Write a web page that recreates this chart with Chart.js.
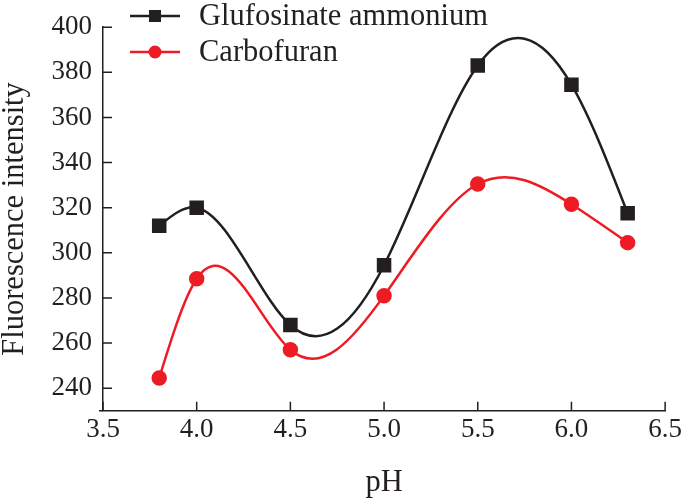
<!DOCTYPE html>
<html>
<head>
<meta charset="utf-8">
<script src="https://cdn.jsdelivr.net/npm/chart.js@4.4.1/dist/chart.umd.min.js"></script>
<style>
  html, body { margin: 0; padding: 0; background: #fff; }
  #wrap { width: 685px; height: 501px; position: relative; }
</style>
</head>
<body>
<div id="wrap"><canvas id="phChart"></canvas></div>
<script>
// data
const phValues = [3.8, 4.0, 4.5, 5.0, 5.5, 6.0, 6.3];
const glufosinate = [312, 320, 268, 294.5, 383, 374.5, 317.5];
const carbofuran = [244.5, 288.5, 257, 281, 330.5, 321.5, 304.5];
const yTickValues = [240, 260, 280, 300, 320, 340, 360, 380, 400];
const xTickValues = [3.5, 4.0, 4.5, 5.0, 5.5, 6.0, 6.5];

const BLACK = '#231f20';
const RED = '#ed1c24';
const FONT = "'Liberation Serif', 'Times New Roman', serif";

function toPoints(ys) {
    return phValues.map((x, i) => ({ x: x, y: ys[i] }));
}

// natural cubic spline through the point elements (pixel space),
// written into the bezier control points that Chart.js draws with
function splineControlPoints(pts) {
    const n = pts.length;
    if (n < 3) return;
    const h = [], d = [];
    for (let i = 0; i < n - 1; i++) {
        h.push(pts[i + 1].x - pts[i].x);
        d.push((pts[i + 1].y - pts[i].y) / h[i]);
    }
    // tridiagonal solve for second derivatives, M0 = Mn = 0
    const M = new Array(n).fill(0);
    const a = [], b = [], c = [], r = [];
    for (let i = 1; i < n - 1; i++) {
        a.push(h[i - 1]);
        b.push(2 * (h[i - 1] + h[i]));
        c.push(h[i]);
        r.push(6 * (d[i] - d[i - 1]));
    }
    const m = b.length;
    for (let i = 1; i < m; i++) {
        const w = a[i] / b[i - 1];
        b[i] -= w * c[i - 1];
        r[i] -= w * r[i - 1];
    }
    const sol = new Array(m);
    sol[m - 1] = r[m - 1] / b[m - 1];
    for (let i = m - 2; i >= 0; i--) sol[i] = (r[i] - c[i] * sol[i + 1]) / b[i];
    for (let i = 0; i < m; i++) M[i + 1] = sol[i];

    const slope = [];
    for (let i = 0; i < n - 1; i++) slope.push(d[i] - h[i] * (2 * M[i] + M[i + 1]) / 6);
    slope.push(d[n - 2] + h[n - 2] * (M[n - 2] + 2 * M[n - 1]) / 6);

    for (let i = 0; i < n; i++) {
        const p = pts[i];
        const hl = i > 0 ? h[i - 1] / 3 : 0;
        const hr = i < n - 1 ? h[i] / 3 : 0;
        p.cp1x = p.x - hl; p.cp1y = p.y - hl * slope[i];
        p.cp2x = p.x + hr; p.cp2y = p.y + hr * slope[i];
    }
}

const smoothLines = {
    id: 'smoothLines',
    beforeDatasetsDraw(chart) {
        chart.data.datasets.forEach((ds, i) => {
            const meta = chart.getDatasetMeta(i);
            meta.dataset.updateControlPoints(chart.chartArea, 'x');
            splineControlPoints(meta.data);
        });
    }
};

// tick marks pointing into the plot + legend drawn inside the plot
const extras = {
    id: 'extras',
    afterDatasetsDraw(chart) {
        const ctx = chart.ctx;
        const area = chart.chartArea;
        const xs = chart.scales.x, ys = chart.scales.y;
        ctx.save();
        ctx.strokeStyle = BLACK;
        ctx.lineWidth = 1.5;
        ctx.beginPath();
        yTickValues.forEach(v => {
            const py = ys.getPixelForValue(v);
            ctx.moveTo(area.left, py);
            ctx.lineTo(area.left + 9, py);
        });
        xTickValues.forEach(v => {
            const px = xs.getPixelForValue(v);
            ctx.moveTo(px, area.bottom);
            ctx.lineTo(px, area.bottom - 9);
        });
        ctx.moveTo(area.left - 4, area.bottom);
        ctx.lineTo(area.left, area.bottom);
        ctx.stroke();

        // legend
        const rows = [16, 52];
        chart.data.datasets.forEach((ds, i) => {
            const y = rows[i];
            ctx.strokeStyle = ds.borderColor;
            ctx.lineWidth = 2.5;
            ctx.beginPath();
            ctx.moveTo(130, y);
            ctx.lineTo(180, y);
            ctx.stroke();
            ctx.fillStyle = ds.backgroundColor;
            ctx.beginPath();
            if (ds.pointStyle === 'rect') {
                ctx.rect(155 - 6, y - 6, 12, 12);
            } else {
                ctx.arc(155, y, 6.5, 0, Math.PI * 2);
            }
            ctx.fill();
            ctx.fillStyle = BLACK;
            ctx.font = '30.5px ' + FONT;
            ctx.textAlign = 'left';
            ctx.textBaseline = 'middle';
            ctx.fillText(ds.label, 199, y + 1);
        });
        ctx.restore();
    }
};

const chart = new Chart(document.getElementById('phChart'), {
    type: 'line',
    data: {
        datasets: [{
            label: 'Glufosinate ammonium',
            data: toPoints(glufosinate),
            borderColor: BLACK,
            backgroundColor: BLACK,
            borderWidth: 2.5,
            pointStyle: 'rect',
            pointRadius: 8.5,
            pointHoverRadius: 8.5,
            tension: 0.4
        }, {
            label: 'Carbofuran',
            data: toPoints(carbofuran),
            borderColor: RED,
            backgroundColor: RED,
            borderWidth: 2.5,
            pointStyle: 'circle',
            pointRadius: 6.5,
            pointHoverRadius: 6.5,
            tension: 0.4
        }]
    },
    options: {
        responsive: true,
        maintainAspectRatio: false,
        animation: false,
        layout: { padding: { left: 0, right: 19, top: 14.5, bottom: 0 } },
        plugins: {
            legend: { display: false },
            tooltip: { enabled: false }
        },
        scales: {
            x: {
                type: 'linear',
                min: 3.5,
                max: 6.5,
                afterBuildTicks: s => { s.ticks = xTickValues.map(v => ({ value: v })); },
                afterFit: s => { s.height = 90.3; },
                grid: { display: true, drawOnChartArea: false, drawTicks: false },
                border: { display: true, color: BLACK, width: 1.5 },
                ticks: {
                    color: BLACK,
                    padding: 3,
                    font: { family: FONT, size: 27 },
                    callback: v => Number(v).toFixed(1)
                },
                title: {
                    display: true,
                    text: 'pH',
                    color: BLACK,
                    font: { family: FONT, size: 30.5, lineHeight: 1 },
                    padding: { top: 0, bottom: 3 }
                }
            },
            y: {
                min: 230,
                max: 400,
                afterBuildTicks: s => { s.ticks = yTickValues.map(v => ({ value: v })); },
                afterFit: s => { s.width = 103; },
                grid: { display: true, drawOnChartArea: false, drawTicks: false },
                border: { display: true, color: BLACK, width: 1.5 },
                ticks: {
                    color: BLACK,
                    padding: 11,
                    font: { family: FONT, size: 27 }
                },
                title: {
                    display: true,
                    text: 'Fluorescence intensity',
                    color: BLACK,
                    font: { family: FONT, size: 30.5, lineHeight: 1 },
                    padding: { top: 0, bottom: 0 }
                }
            }
        }
    },
    plugins: [smoothLines, extras]
});
</script>
</body>
</html>
